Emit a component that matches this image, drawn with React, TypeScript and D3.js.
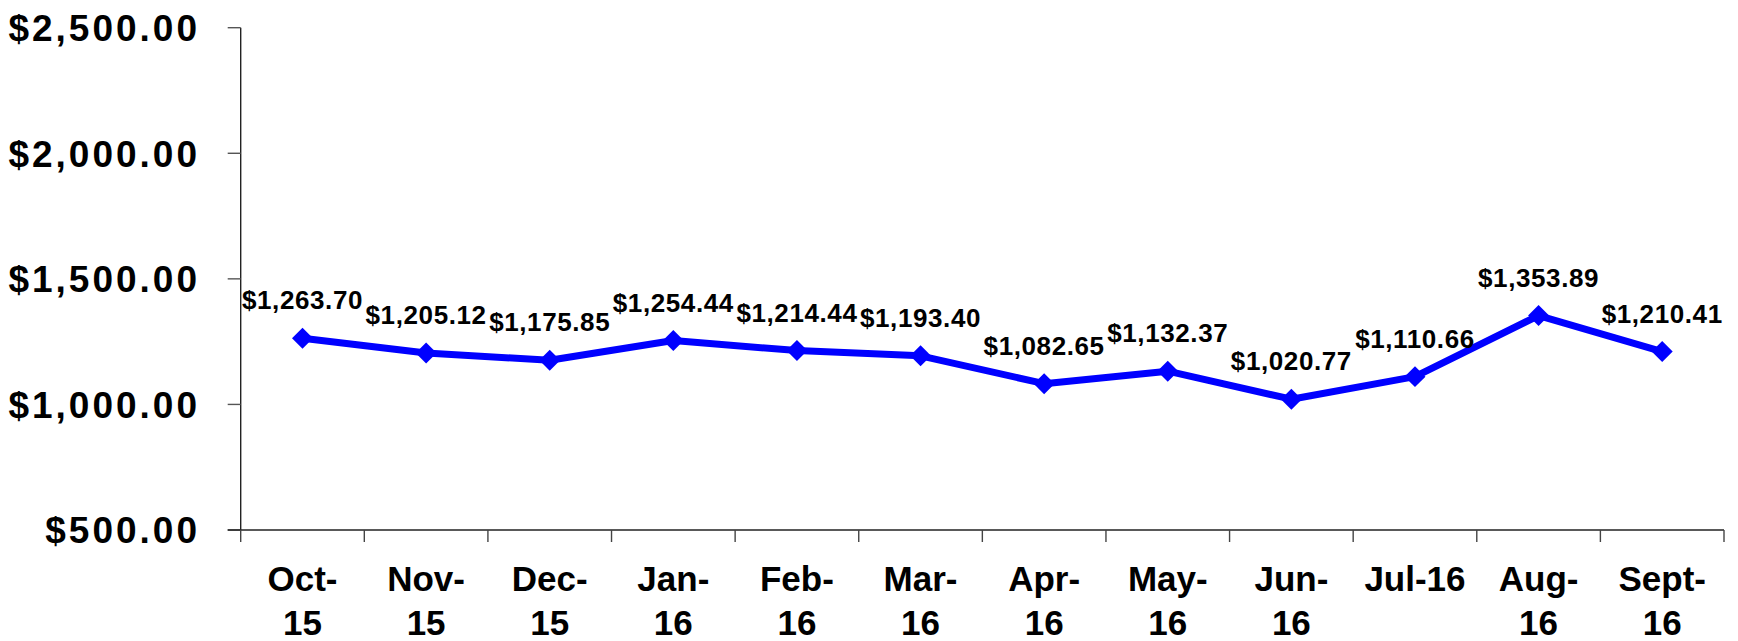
import React, { useEffect, useRef } from "react";
import * as d3 from "d3";

const months = ["Oct-15", "Nov-15", "Dec-15", "Jan-16", "Feb-16", "Mar-16", "Apr-16", "May-16", "Jun-16", "Jul-16", "Aug-16", "Sept-16"];
const values = [1263.7, 1205.12, 1175.85, 1254.44, 1214.44, 1193.4, 1082.65, 1132.37, 1020.77, 1110.66, 1353.89, 1210.41];
// how each month's label is split onto lines under the axis
const monthLines = [["Oct-", "15"], ["Nov-", "15"], ["Dec-", "15"], ["Jan-", "16"], ["Feb-", "16"], ["Mar-", "16"], ["Apr-", "16"], ["May-", "16"], ["Jun-", "16"], ["Jul-16"], ["Aug-", "16"], ["Sept-", "16"]];
const yTicks = [500, 1000, 1500, 2000, 2500];

const App = () => {
  const svgRef = useRef<SVGSVGElement>(null);

  useEffect(() => {
    const width = 1738;
    const height = 641;
    const m = { left: 240.7, right: 14, top: 27.7, bottom: 111 };
    const font = "'Liberation Sans', Arial, sans-serif";

    const svg = d3.select(svgRef.current).attr("width", width).attr("height", height);
    svg.selectAll("*").remove();

    const x = d3.scaleBand<string>().domain(months).range([m.left, width - m.right]);
    const y = d3.scaleLinear().domain([500, 2500]).range([height - m.bottom, m.top]);
    const cx = (i: number) => (x(months[i]) as number) + x.bandwidth() / 2;

    // y axis
    const yAxis = svg.append("g");
    yAxis.append("line")
      .attr("x1", m.left).attr("x2", m.left)
      .attr("y1", y(2500)).attr("y2", y(500))
      .attr("stroke", "#222").attr("stroke-width", 1.4);
    yAxis.selectAll("line.t").data(yTicks).join("line")
      .attr("class", "t")
      .attr("x1", m.left - 13).attr("x2", m.left)
      .attr("y1", (d) => y(d)).attr("y2", (d) => y(d))
      .attr("stroke", "#555").attr("stroke-width", 1.4);
    yAxis.selectAll("text").data(yTicks).join("text")
      .attr("x", 200)
      .attr("y", (d) => y(d))
      .attr("dy", "0.36em")
      .attr("text-anchor", "end")
      .style("font-family", font)
      .style("font-weight", "bold")
      .style("font-size", "37px")
      .style("letter-spacing", "3px")
      .text((d) => d3.format("$,.2f")(d));

    // x axis
    const xAxis = svg.append("g");
    xAxis.append("line")
      .attr("x1", m.left - 13).attr("x2", width - m.right)
      .attr("y1", y(500)).attr("y2", y(500))
      .attr("stroke", "#222").attr("stroke-width", 1.4);
    const bounds = months.map((d) => x(d) as number).concat([width - m.right]);
    xAxis.selectAll("line.t").data(bounds).join("line")
      .attr("class", "t")
      .attr("x1", (d) => d).attr("x2", (d) => d)
      .attr("y1", y(500)).attr("y2", y(500) + 12)
      .attr("stroke", "#444").attr("stroke-width", 1.4);
    xAxis.selectAll("text").data(monthLines).join("text")
      .attr("x", (d, i) => cx(i))
      .attr("y", 591)
      .attr("text-anchor", "middle")
      .style("font-family", font)
      .style("font-weight", "bold")
      .style("font-size", "35px")
      .selectAll("tspan")
      .data((d) => d)
      .join("tspan")
      .attr("x", function () {
        return (this as SVGTSpanElement).parentElement!.getAttribute("x");
      })
      .attr("dy", (d, i) => (i === 0 ? 0 : 44))
      .text((d) => d);

    // line
    const line = d3.line<number>().x((d, i) => cx(i)).y((d) => y(d));
    svg.append("path")
      .datum(values)
      .attr("d", line)
      .attr("fill", "none")
      .attr("stroke", "#0000ff")
      .attr("stroke-width", 7)
      .attr("stroke-linejoin", "round");

    const diamond = d3.symbol().type(d3.symbolSquare).size(220);
    svg.selectAll("path.pt").data(values).join("path")
      .attr("class", "pt")
      .attr("d", diamond)
      .attr("fill", "#0000ff")
      .attr("transform", (d, i) => `translate(${cx(i)},${y(d)}) rotate(45)`);

    // data labels
    svg.selectAll("text.lbl").data(values).join("text")
      .attr("class", "lbl")
      .attr("x", (d, i) => cx(i))
      .attr("y", (d) => y(d) - 29)
      .attr("text-anchor", "middle")
      .style("font-family", font)
      .style("font-weight", "bold")
      .style("font-size", "26px")
      .style("letter-spacing", "0.6px")
      .text((d) => d3.format("$,.2f")(d));
  }, []);

  return <svg ref={svgRef} style={{ position: "absolute", left: 0, top: 0 }}></svg>;
};

export default App;
